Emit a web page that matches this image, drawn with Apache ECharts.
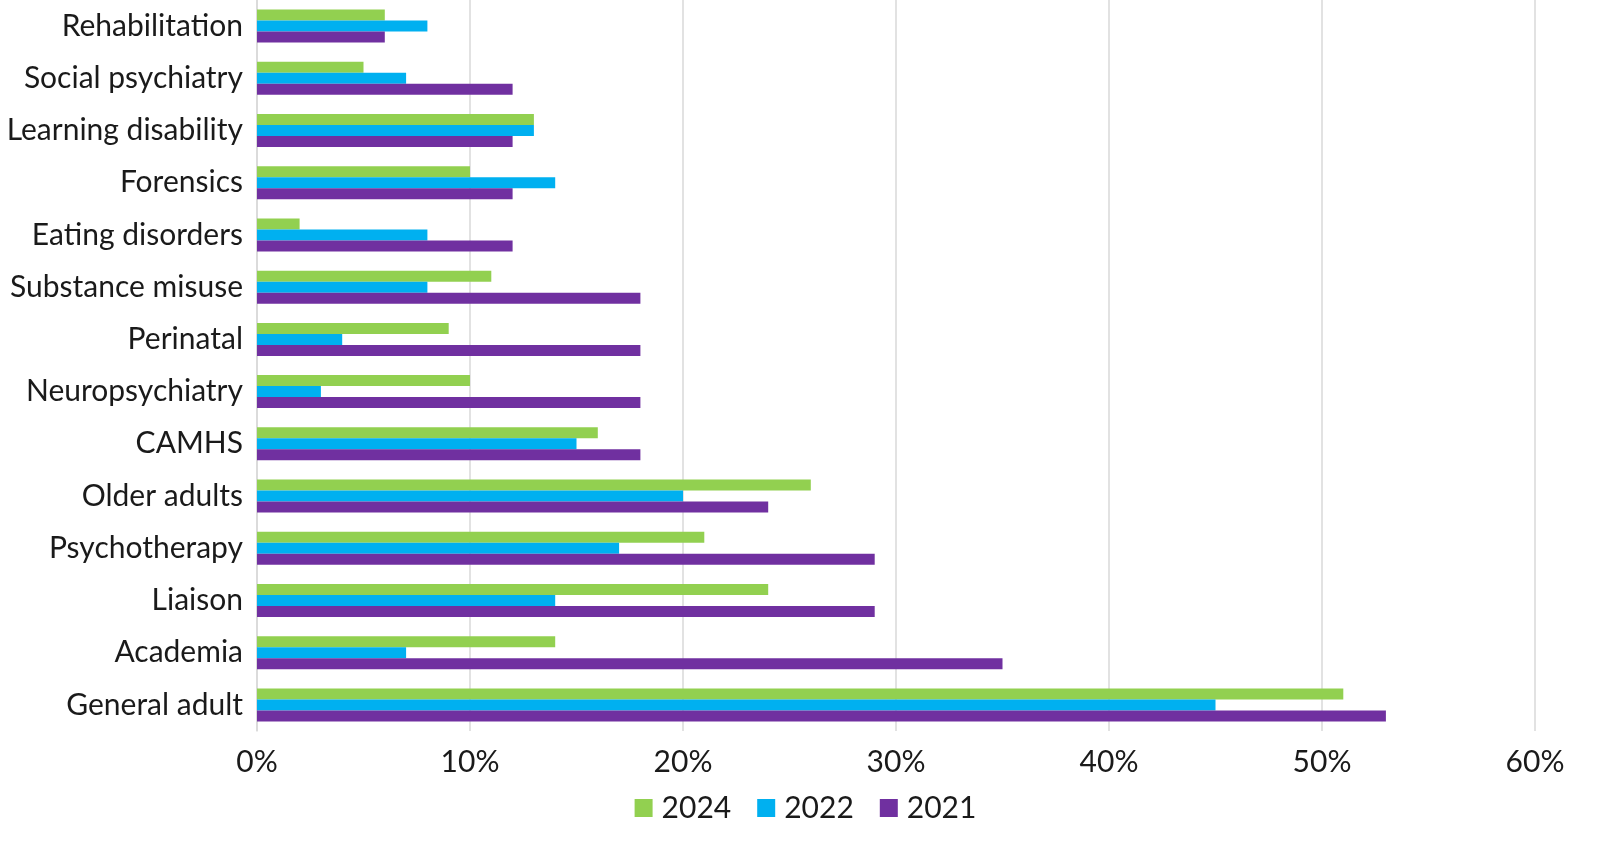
<!DOCTYPE html>
<html>
<head>
<meta charset="utf-8">
<script src="https://cdn.jsdelivr.net/npm/echarts@6/dist/echarts.min.js"></script>
<style>html,body{margin:0;padding:0;background:#fff;}#c{width:1611px;height:854px;}</style>
</head>
<body>
<div id="c"></div>
<script>
// Categories listed bottom to top (ECharts category y-axis starts at bottom)
var categories = ["General adult","Academia","Liaison","Psychotherapy","Older adults","CAMHS","Neuropsychiatry","Perinatal","Substance misuse","Eating disorders","Forensics","Learning disability","Social psychiatry","Rehabilitation"];
var values2024 = [51,14,24,21,26,16,10,9,11,2,10,13,5,6];
var values2022 = [45,7,14,17,20,15,3,4,8,8,14,13,7,8];
var values2021 = [53,35,29,29,24,18,18,18,18,12,12,12,12,6];
var xTicks = [0,10,20,30,40,50,60];

var chart = echarts.init(document.getElementById('c'));
var font = 'Lato';
function bar(name, data, color){
  return {name:name, type:'bar', data:data, barWidth:11, barGap:'0%',
    itemStyle:{color:color}, emphasis:{disabled:true}};
}
chart.setOption({
  animation:false,
  textStyle:{fontFamily:font},
  grid:{left:257, right:76, top:0, bottom:123, containLabel:false},
  legend:{
    data:['2024','2022','2021'], bottom:26, left:'center',
    itemWidth:18, itemHeight:18, itemGap:26, icon:'rect',
    textStyle:{fontSize:30, color:'#1a1a1a', fontFamily:font, padding:[0,0,0,4]}
  },
  xAxis:{
    type:'value', min:xTicks[0], max:xTicks[xTicks.length-1], interval:10,
    axisLabel:{formatter:'{value}%', fontSize:30, color:'#1a1a1a', margin:16},
    splitLine:{show:true, lineStyle:{color:'#d9d9d9', width:1.5}},
    axisLine:{show:false}, axisTick:{show:false}
  },
  yAxis:{
    type:'category', data:categories,
    axisLabel:{fontSize:30, color:'#1a1a1a', margin:14},
    axisLine:{show:true, lineStyle:{color:'#d9d9d9', width:1.5}},
    axisTick:{show:false}
  },
  series:[
    bar('2024', values2024, '#92d050'),
    bar('2022', values2022, '#00b0f0'),
    bar('2021', values2021, '#7030a0')
  ]
});
</script>
</body>
</html>
